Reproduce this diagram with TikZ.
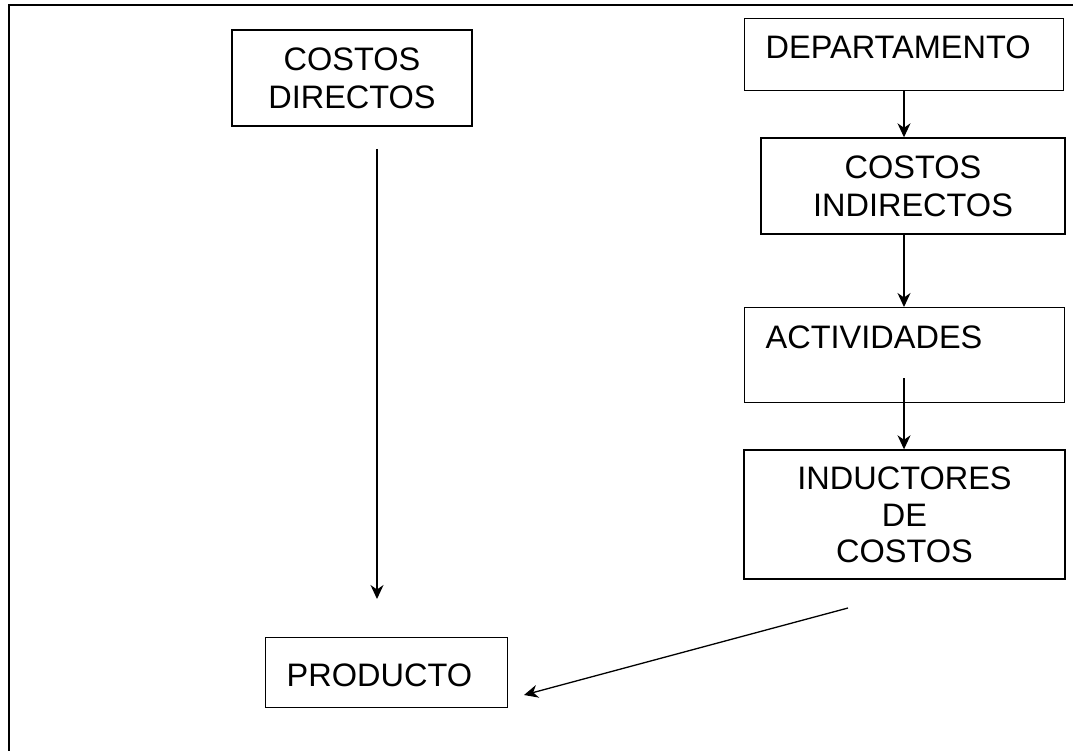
\documentclass[tikz,border=0pt]{standalone}
\usepackage{fontspec}
\setmainfont{Liberation Sans}
\usetikzlibrary{arrows.meta}

\tikzset{
  txt/.style={font=\fontsize{32.5}{38}\selectfont},
  box/.style={draw, line width=1.4pt, txt, inner sep=0pt, align=center},
  lbox/.style={draw, line width=1.4pt, txt, inner ysep=0pt, inner xsep=21pt, align=left},
  flow/.style={line width=1.3pt, -{Stealth[length=14pt,width=13pt,inset=4.5pt]}},
  frame/.style={line width=2pt}
}

\begin{document}
\begin{tikzpicture}[x=1pt,y=-1pt]
  \useasboundingbox (0,0) rectangle (1073,751);
  \clip (0,0) rectangle (1073,751);

  % outer frame, running off the right and bottom edges
  \draw[frame] (8.5,760) -- (8.5,5) -- (1080,5);

  % left column
  \node[box, minimum width=240pt, minimum height=96pt] (cd) at (352,78)
    {COSTOS\\DIRECTOS};
  \node[lbox, anchor=north west, text width=200pt, text height=49pt, text depth=21pt]
    (prod) at (265,637) {PRODUCTO};

  % right column
  \node[lbox, anchor=north west, text width=277pt, text height=40pt, text depth=32pt]
    (dep) at (744,18) {DEPARTAMENTO};
  \node[box, minimum width=304pt, minimum height=96pt] (ci) at (913,186)
    {COSTOS\\INDIRECTOS};
  \node[lbox, anchor=north west, text width=278pt, text height=41pt, text depth=54pt]
    (act) at (744,307) {ACTIVIDADES};
  \node[box, minimum width=321pt, minimum height=129pt] (ind) at (904.5,514.5)
    {INDUCTORES\\[-1pt]DE\\[-2pt]COSTOS};

  % free arrow ends
  \coordinate (cdstart) at (377,149);
  \coordinate (cdend) at (377,599);
  \coordinate (actmid) at (904,378);
  \coordinate (indstart) at (848,608);
  \coordinate (prodend) at (524,695);

  % connectors
  \draw[flow] (cdstart) -- (cdend);
  \draw[flow] (actmid |- dep.south) -- (actmid |- ci.north);
  \draw[flow] (actmid |- ci.south) -- (actmid |- act.north);
  \draw[flow] (actmid) -- (actmid |- ind.north);
  \draw[flow] (indstart) -- (prodend);
\end{tikzpicture}
\end{document}
